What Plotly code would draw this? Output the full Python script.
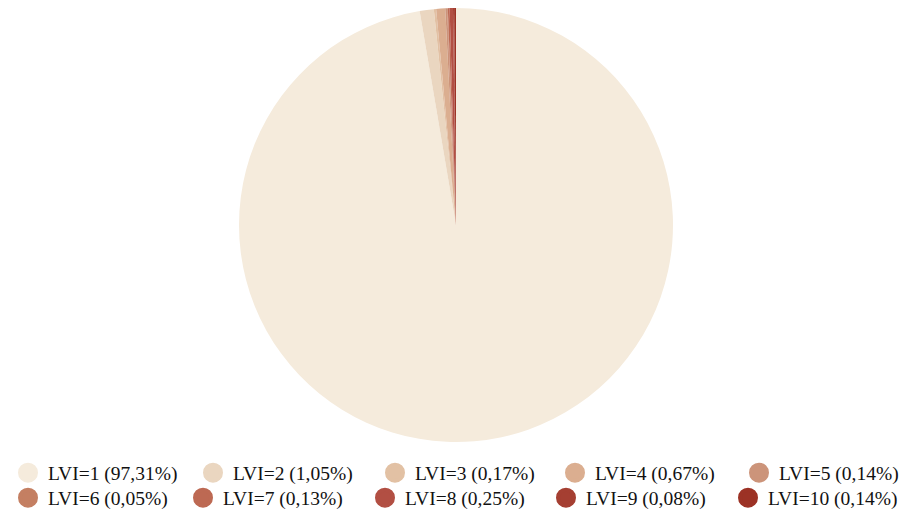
import plotly.graph_objects as go

labels = ["LVI=1", "LVI=2", "LVI=3", "LVI=4", "LVI=5",
          "LVI=6", "LVI=7", "LVI=8", "LVI=9", "LVI=10"]
shares = [97.31, 1.05, 0.17, 0.67, 0.14, 0.05, 0.13, 0.25, 0.08, 0.14]
colors = ["#F5EBDC", "#EAD6C0", "#E2C1A4", "#DBAE90", "#CC947A",
          "#C47F62", "#BD6953", "#B24F43", "#A53F32", "#9C3225"]

fig = go.Figure()
fig.add_trace(go.Pie(labels=labels, values=shares, sort=False,
                     direction="clockwise", rotation=0,
                     marker=dict(colors=colors, line=dict(width=0)),
                     textinfo="none", showlegend=False,
                     domain=dict(x=[0, 1], y=[0, 1])))

# one small legend per entry so each one sits where the reference puts it
leg_x = [0, 185, 367, 547, 731, 0, 175, 357, 538, 720]
leg_y = [0.0936] * 5 + [0.0448] * 5

leg = dict(orientation="h", xref="paper", yref="container",
           xanchor="left", yanchor="middle", bgcolor="rgba(0,0,0,0)",
           itemwidth=30,
           font=dict(family="Liberation Serif, Times New Roman, serif",
                     size=19.5, color="#111"))
legends = {}
for i, (lab, v, c) in enumerate(zip(labels, shares, colors)):
    name = f"{lab} ({v:.2f}%)".replace(".", ",")
    key = "legend" if i == 0 else f"legend{i + 1}"
    fig.add_trace(go.Scatter(x=[None], y=[None], mode="markers", name=name,
                             marker=dict(color=c, size=16, symbol="circle",
                                         line=dict(color=c, width=4)),
                             legend=key))
    legends[key] = dict(leg, x=leg_x[i] / 896, y=leg_y[i])

fig.update_layout(
    width=907, height=513,
    margin=dict(l=0, r=11, t=0, b=79),
    paper_bgcolor="white", plot_bgcolor="white",
    xaxis=dict(visible=False), yaxis=dict(visible=False),
    **legends,
)
fig.write_html("out.html")
